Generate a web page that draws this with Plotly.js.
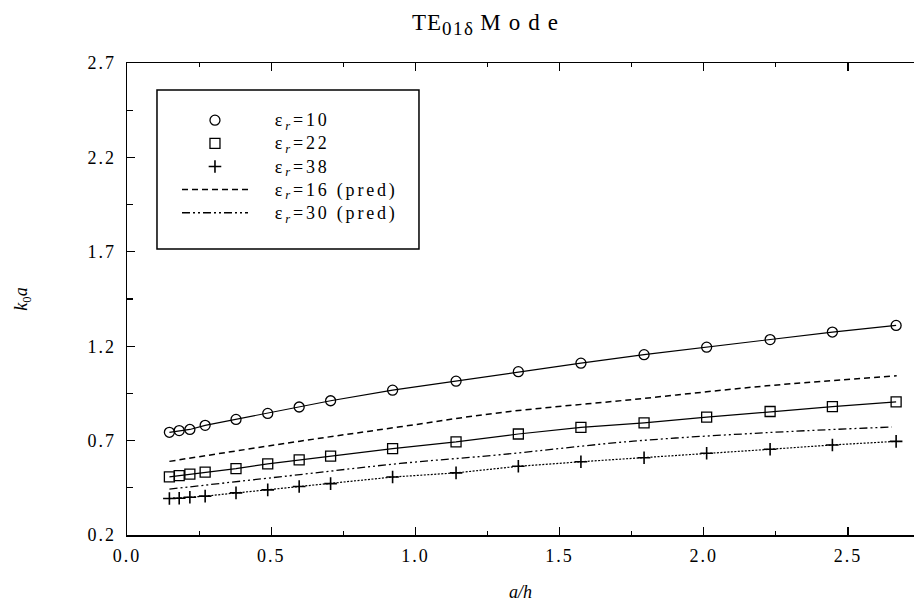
<!DOCTYPE html>
<html><head><meta charset="utf-8">
<script src="https://cdn.plot.ly/plotly-3.0.1.min.js"></script>
<style>
body{margin:0;background:#fff}
#chart{width:914px;height:614px}
.xtick text,.ytick text{letter-spacing:2px}
</style></head><body><div id="chart"></div>
<script>
// a/h values of the measured points
const aH = [0.147, 0.181, 0.218, 0.271, 0.378, 0.488, 0.597, 0.706, 0.921, 1.141, 1.357, 1.574, 1.793, 2.010, 2.230, 2.446, 2.667];
// k0a measured
const er10 = [0.744, 0.753, 0.759, 0.781, 0.812, 0.844, 0.878, 0.911, 0.967, 1.015, 1.065, 1.110, 1.155, 1.195, 1.235, 1.275, 1.310];
const er22 = [0.508, 0.514, 0.522, 0.533, 0.552, 0.577, 0.598, 0.618, 0.658, 0.693, 0.735, 0.770, 0.794, 0.824, 0.854, 0.880, 0.905];
const er38 = [0.393, 0.395, 0.400, 0.406, 0.423, 0.439, 0.457, 0.472, 0.507, 0.529, 0.564, 0.588, 0.609, 0.633, 0.654, 0.677, 0.696];
// predicted curves
const predX16 = [0.147, 0.600, 0.947, 1.293, 1.756, 2.218, 2.669];
const pred16  = [0.590, 0.697, 0.773, 0.848, 0.918, 0.990, 1.043];
const predX30 = [0.147, 0.600, 0.947, 1.293, 1.756, 2.218, 2.652];
const pred30  = [0.443, 0.520, 0.579, 0.625, 0.697, 0.742, 0.772];

const seriesLabels = ['ε<sub><i>r</i></sub>=10', 'ε<sub><i>r</i></sub>=22', 'ε<sub><i>r</i></sub>=38',
                      'ε<sub><i>r</i></sub>=16 (pred)', 'ε<sub><i>r</i></sub>=30 (pred)'];
const xTicks = [0, 0.5, 1.0, 1.5, 2.0, 2.5];
const yTicks = [0.2, 0.7, 1.2, 1.7, 2.2, 2.7];

const names = seriesLabels.map(s => '<span style="font-size:18px;letter-spacing:2.8px">\u00a0\u00a0\u00a0' + s + '</span>');

const serif = 'Liberation Serif, Times New Roman, serif';
const K = '#000';

const traces = [
  {x: aH, y: er10, mode: 'lines', line: {color: K, width: 1.2}, showlegend: false, hoverinfo: 'skip'},
  {x: aH, y: er22, mode: 'lines', line: {color: K, width: 1.2}, showlegend: false, hoverinfo: 'skip'},
  {x: aH, y: er38, mode: 'lines', line: {color: K, width: 1.2, dash: '2px,1.5px'}, showlegend: false, hoverinfo: 'skip'},
  {x: aH, y: er10, mode: 'markers', name: names[0], marker: {symbol: 'circle-open', size: 10, color: K, line: {width: 1.3, color: K}}},
  {x: aH, y: er22, mode: 'markers', name: names[1], marker: {symbol: 'square-open', size: 10, color: K, line: {width: 1.3, color: K}}},
  {x: aH, y: er38, mode: 'markers', name: names[2], marker: {symbol: 'cross-thin-open', size: 9, color: K, line: {width: 1.6, color: K}}},
  {x: predX16, y: pred16, mode: 'lines', name: names[3], line: {color: K, width: 1.5, dash: '6px,4px', shape: 'spline'}},
  {x: predX30, y: pred30, mode: 'lines', name: names[4], line: {color: K, width: 1.3, dash: '8px,3px,2px,3px,2px,3px', shape: 'spline'}}
];

const axisCommon = {
  showline: true, linecolor: K, linewidth: 1.5, showgrid: false, zeroline: false,
  ticks: 'inside', ticklen: 8, tickwidth: 1.3, tickcolor: K,
  tickfont: {family: serif, size: 18, color: K}, tickformat: '.1f'
};

const layout = {
  width: 914, height: 614,
  margin: {l: 127, r: 0, t: 63, b: 79},
  paper_bgcolor: '#fff', plot_bgcolor: '#fff',
  font: {family: serif, color: K},
  title: {text: '<span style="letter-spacing:1px">TE</span><sub><span style="font-size:19px;letter-spacing:1.5px">01δ</span></sub> <span style="letter-spacing:8px">Mode</span>',
          font: {family: serif, size: 23, color: K},
          x: 489/914, xref: 'container', xanchor: 'center', y: 1 - 22/614, yref: 'container', yanchor: 'middle'},
  xaxis: Object.assign({}, axisCommon, {
    range: [0, 2.729], tickvals: xTicks, mirror: 'ticks', ticklabelstandoff: 4,
    minor: {dtick: 0.25, tick0: 0, ticks: 'inside', ticklen: 4, tickwidth: 1.2, tickcolor: K},
    title: {text: '<i>a/h</i>', font: {family: serif, size: 18, color: K}, standoff: 20}
  }),
  yaxis: Object.assign({}, axisCommon, {
    range: [0.2, 2.7], tickvals: yTicks, mirror: false, ticklabelstandoff: 6,
    minor: {dtick: 0.25, tick0: 0.2, ticks: 'inside', ticklen: 6, tickwidth: 1.2, tickcolor: K},
    title: {text: '<i>k</i><sub>0</sub><i>a</i>', font: {family: serif, size: 18, color: K}, standoff: 55}
  }),
  showlegend: true,
  legend: {x: 0.0635, y: 0.914, xanchor: 'left', yanchor: 'top', bgcolor: 'rgba(0,0,0,0)', borderwidth: 0,
           itemwidth: 66, font: {family: serif, size: 15.5, color: K}, tracegroupgap: 0},
  shapes: [{type: 'rect', xref: 'paper', yref: 'paper', x0: 0.0381, x1: 0.371, y0: 0.606, y1: 0.943,
            line: {color: K, width: 1.5}, fillcolor: 'rgba(0,0,0,0)'}]
};

Plotly.newPlot('chart', traces, layout, {displayModeBar: false, staticPlot: true});
</script></body></html>
